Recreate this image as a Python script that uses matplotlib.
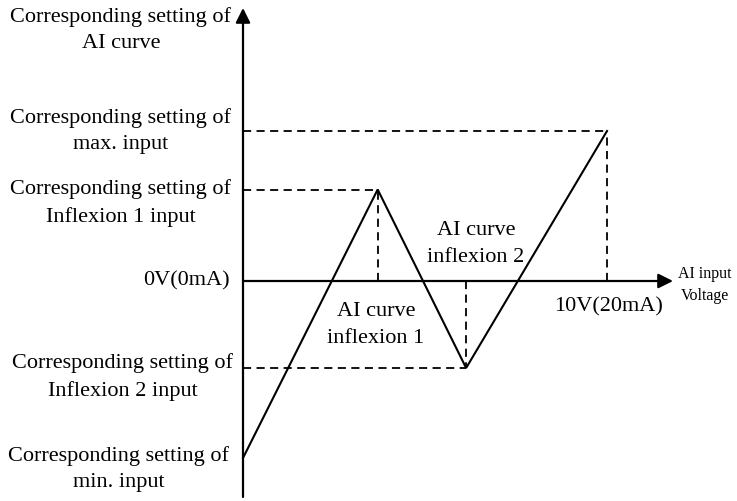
import matplotlib.pyplot as plt

# curve points (x: input 0..10 V, y: setting, max input = 100)
curve_x = [0, 3.7, 6.13, 10]
curve_y = [-118, 61, -58, 100]

left_labels = ["Corresponding setting of\nAI curve",
               "Corresponding setting of\nmax. input",
               "Corresponding setting of\nInflexion 1 input",
               "0V(0mA)",
               "Corresponding setting of\nInflexion 2 input",
               "Corresponding setting of\nmin. input"]

plt.rcParams['font.family'] = ['Liberation Serif', 'DejaVu Serif']

fig = plt.figure(figsize=(7.37, 5.01), dpi=100)
ax = fig.add_axes([0, 0, 1, 1])
# pixel mapping: x_px = 243 + 36.4*v, y_px = 281 - 1.5*u
ax.set_xlim(-243 / 36.4, (737 - 243) / 36.4)
ax.set_ylim(-(501 - 281) / 1.5, 281 / 1.5)
ax.axis('off')

def px_y(py):
    return (281 - py) / 1.5

def px_x(pxx):
    return (pxx - 243) / 36.4

# axes with arrows
arr = dict(arrowstyle='-|>', lw=1.6, color='black', mutation_scale=22, shrinkA=0, shrinkB=0)
ax.annotate('', xy=(0, px_y(8)), xytext=(0, px_y(497)), arrowprops=arr)
ax.annotate('', xy=(px_x(673), 0), xytext=(0, 0), arrowprops=arr)

# dashed guide lines from the corner points
dash = dict(color='black', lw=1.3, ls=(0, (4.5, 3)))
for cx, cy in zip(curve_x[1:], curve_y[1:]):
    ax.plot([0, cx], [cy, cy], **dash)
    ax.plot([cx, cx], [0, cy], **dash)

# the AI curve
ax.plot(curve_x, curve_y, color='black', lw=1.5, solid_joinstyle='miter')

fs = 16
ls = 1.55
label_pos = [(121, 30), (121, 131), (121, 203), (186, 281), (123, 377), (119, 469)]
for txt, (lx, ly) in zip(left_labels, label_pos):
    ax.text(px_x(lx), px_y(ly), txt, ha='center', va='center',
            multialignment='center', fontsize=fs, linespacing=ls)

ax.text(px_x(476), px_y(244), "AI curve\ninflexion 2", ha='center', va='center',
        multialignment='center', fontsize=fs, linespacing=ls)
ax.text(px_x(376), px_y(325), "AI curve\ninflexion 1", ha='center', va='center',
        multialignment='center', fontsize=fs, linespacing=ls)
ax.text(px_x(609), px_y(307), "10V(20mA)", ha='center', va='center', fontsize=fs)
ax.text(px_x(705), px_y(285), "AI input\nVoltage", ha='center', va='center',
        multialignment='center', fontsize=11.5, linespacing=1.45)

fig.savefig('out.png', dpi=100, facecolor='white')
